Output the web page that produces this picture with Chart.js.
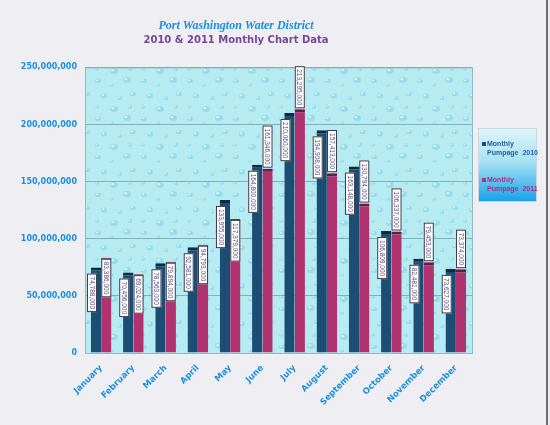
<!DOCTYPE html>
<html>
<head>
<meta charset="utf-8">
<script src="https://cdn.jsdelivr.net/npm/chart.js@4.4.1/dist/chart.umd.min.js"></script>
<style>
  html, body { margin: 0; padding: 0; background: #efeff3; }
  #wrap { width: 550px; height: 425px; }
</style>
</head>
<body>
<div id="wrap"><canvas id="chart" width="550" height="425"></canvas></div>
<script>
// Monthly pumpage (gallons)
const months = ['January', 'February', 'March', 'April', 'May', 'June',
                'July', 'August', 'September', 'October', 'November', 'December'];
const pumpage2010 = [74788000, 70456000, 78563000, 92581000, 133955000, 164800000,
                     210060000, 194908000, 163148000, 106809000, 82481000, 73627000];
const pumpage2011 = [83386000, 69024000, 79894000, 94793000, 117379000, 161346000,
                     213295000, 157413000, 130794000, 106337000, 79453000, 73374000];
const yTicks = [0, 50000000, 100000000, 150000000, 200000000, 250000000];

const fmt = v => v.toLocaleString('en-US');

// small tile of water drops for the plot background
function dropTile(ctx) {
    const t = document.createElement('canvas');
    t.width = 46; t.height = 38;
    const c = t.getContext('2d');
    c.fillStyle = '#b6ebf1';
    c.fillRect(0, 0, 46, 38);
    const drops = [[6, 5, 3, 2], [20, 9, 2, 1.5], [35, 4, 4, 3], [12, 20, 3, 2.5],
                   [28, 22, 2, 2], [41, 18, 3, 2], [5, 31, 2, 1.5], [22, 33, 4, 3], [38, 31, 2, 2]];
    drops.forEach(([x, y, rx, ry]) => {
        c.fillStyle = '#98dcec';
        c.beginPath();
        c.ellipse(x, y, rx, ry, 0, 0, Math.PI * 2);
        c.fill();
        c.fillStyle = '#d2f5f8';
        c.beginPath();
        c.ellipse(x - rx * 0.3, y - ry * 0.3, rx * 0.4, ry * 0.4, 0, 0, Math.PI * 2);
        c.fill();
    });
    return ctx.createPattern(t, 'repeat');
}

// plot background + page edge
const backdrop = {
    id: 'backdrop',
    beforeDraw(chart) {
        const ctx = chart.ctx;
        const a = chart.chartArea;
        ctx.save();
        ctx.fillStyle = '#efeff3';
        ctx.fillRect(0, 0, chart.width, chart.height);
        ctx.fillStyle = dropTile(ctx);
        ctx.fillRect(a.left, a.top, a.right - a.left, a.bottom - a.top);
        ctx.strokeStyle = '#8fb9c0';
        ctx.lineWidth = 1;
        ctx.strokeRect(a.left + 0.5, a.top + 0.5, a.right - a.left, a.bottom - a.top);
        // page edge on the right
        ctx.fillStyle = '#6e6e72';
        ctx.fillRect(chart.width - 4, 0, 2, chart.height);
        ctx.restore();
    }
};

// rotated value boxes
const valueBoxes = {
    id: 'valueBoxes',
    afterDatasetsDraw(chart) {
        const ctx = chart.ctx;
        ctx.save();
        ctx.font = '6.5px "Liberation Sans", Arial, sans-serif';
        chart.data.datasets.forEach((ds, di) => {
            const meta = chart.getDatasetMeta(di);
            meta.data.forEach((bar, i) => {
                const text = fmt(ds.data[i]);
                const len = ctx.measureText(text).width + 6;
                const w = 10;
                let cx = bar.x, top;
                if (di === 0) {
                    cx = bar.x - 4;
                    top = bar.y + 6;
                } else if (i < 5) {
                    top = bar.y + 1;
                } else {
                    top = bar.y - len - 1;
                }
                ctx.fillStyle = '#ffffff';
                ctx.strokeStyle = '#3a3a4a';
                ctx.lineWidth = 1;
                ctx.fillRect(cx - w / 2, top, w, len);
                ctx.strokeRect(cx - w / 2 + 0.5, top + 0.5, w - 1, len - 1);
                ctx.save();
                ctx.translate(cx, top + len / 2);
                ctx.rotate(Math.PI / 2);
                ctx.fillStyle = '#5a4a8a';
                ctx.textAlign = 'center';
                ctx.textBaseline = 'middle';
                ctx.fillText(text, 0, 0.5);
                ctx.restore();
            });
        });
        ctx.restore();
    }
};

// legend box with gradient on the right
const sideLegend = {
    id: 'sideLegend',
    afterDraw(chart) {
        const ctx = chart.ctx;
        const x = 478, y = 128, w = 59, h = 74;
        ctx.save();
        const g = ctx.createLinearGradient(0, y, 0, y + h);
        g.addColorStop(0, '#dff5f9');
        g.addColorStop(0.45, '#a9e2f3');
        g.addColorStop(1, '#14a0ea');
        ctx.fillStyle = g;
        ctx.fillRect(x, y, w, h);
        ctx.strokeStyle = '#c8d8e0';
        ctx.strokeRect(x + 0.5, y + 0.5, w - 1, h - 1);
        ctx.font = 'bold 7px "Liberation Sans", Arial, sans-serif';
        ctx.textBaseline = 'middle';
        const textColors = ['#1f5fa8', '#b03080'];
        chart.data.datasets.forEach((ds, di) => {
            const ty = y + 16 + di * 36;
            ctx.fillStyle = ds.backgroundColor;
            ctx.fillRect(x + 4, ty - 2, 4, 4);
            ctx.fillStyle = textColors[di];
            const parts = ds.label.split('|');
            ctx.fillText(parts[0], x + 9, ty);
            ctx.fillText(parts[1], x + 9, ty + 9);
        });
        ctx.restore();
    }
};

new Chart(document.getElementById('chart'), {
    type: 'bar',
    data: {
        labels: months,
        datasets: [
            {
                label: 'Monthly|Pumpage  2010',
                data: pumpage2010,
                backgroundColor: '#1c4e73',
                borderColor: '#0c2b42',
                borderWidth: { top: 3, left: 0, right: 0, bottom: 0 },
                borderSkipped: false
            },
            {
                label: 'Monthly|Pumpage  2011',
                data: pumpage2011,
                backgroundColor: '#b0336f',
                borderColor: '#6c1a42',
                borderWidth: { top: 3, left: 0, right: 0, bottom: 0 },
                borderSkipped: false
            }
        ]
    },
    options: {
        responsive: false,
        animation: false,
        datasets: {
            bar: { categoryPercentage: 0.64, barPercentage: 1.0 }
        },
        layout: { padding: { left: 0, right: 78, top: 0, bottom: 0 } },
        plugins: {
            legend: { display: false },
            tooltip: { enabled: false },
            title: {
                display: true,
                text: 'Port Washington Water District',
                color: '#1a8fe0',
                font: { family: '"Liberation Serif", "Times New Roman", serif', size: 12, weight: 'bold', style: 'italic' },
                padding: { top: 19, bottom: 1 }
            },
            subtitle: {
                display: true,
                text: '2010 & 2011 Monthly Chart Data',
                color: '#7a469a',
                font: { family: '"DejaVu Sans", Verdana, sans-serif', size: 10, weight: 'bold' },
                padding: { top: 0, bottom: 21 }
            }
        },
        scales: {
            x: {
                grid: { display: false },
                border: { color: '#8fb9c0' },
                ticks: {
                    color: '#1a8fe0',
                    font: { family: '"DejaVu Sans", Verdana, sans-serif', size: 8.5, weight: 'bold' },
                    maxRotation: 45,
                    minRotation: 45,
                    padding: 2
                },
                afterFit(scale) { scale.height = 72; }
            },
            y: {
                min: 0,
                max: 250000000,
                afterBuildTicks(scale) { scale.ticks = yTicks.map(v => ({ value: v })); },
                grid: { color: '#7fb0bb', drawTicks: false },
                border: { color: '#8fb9c0' },
                ticks: {
                    color: '#1a8fe0',
                    font: { family: '"DejaVu Sans", Verdana, sans-serif', size: 8, weight: 'bold' },
                    padding: 8,
                    callback: v => fmt(v)
                },
                afterFit(scale) { scale.width = 85; }
            }
        }
    },
    plugins: [backdrop, valueBoxes, sideLegend]
});
</script>
</body>
</html>
